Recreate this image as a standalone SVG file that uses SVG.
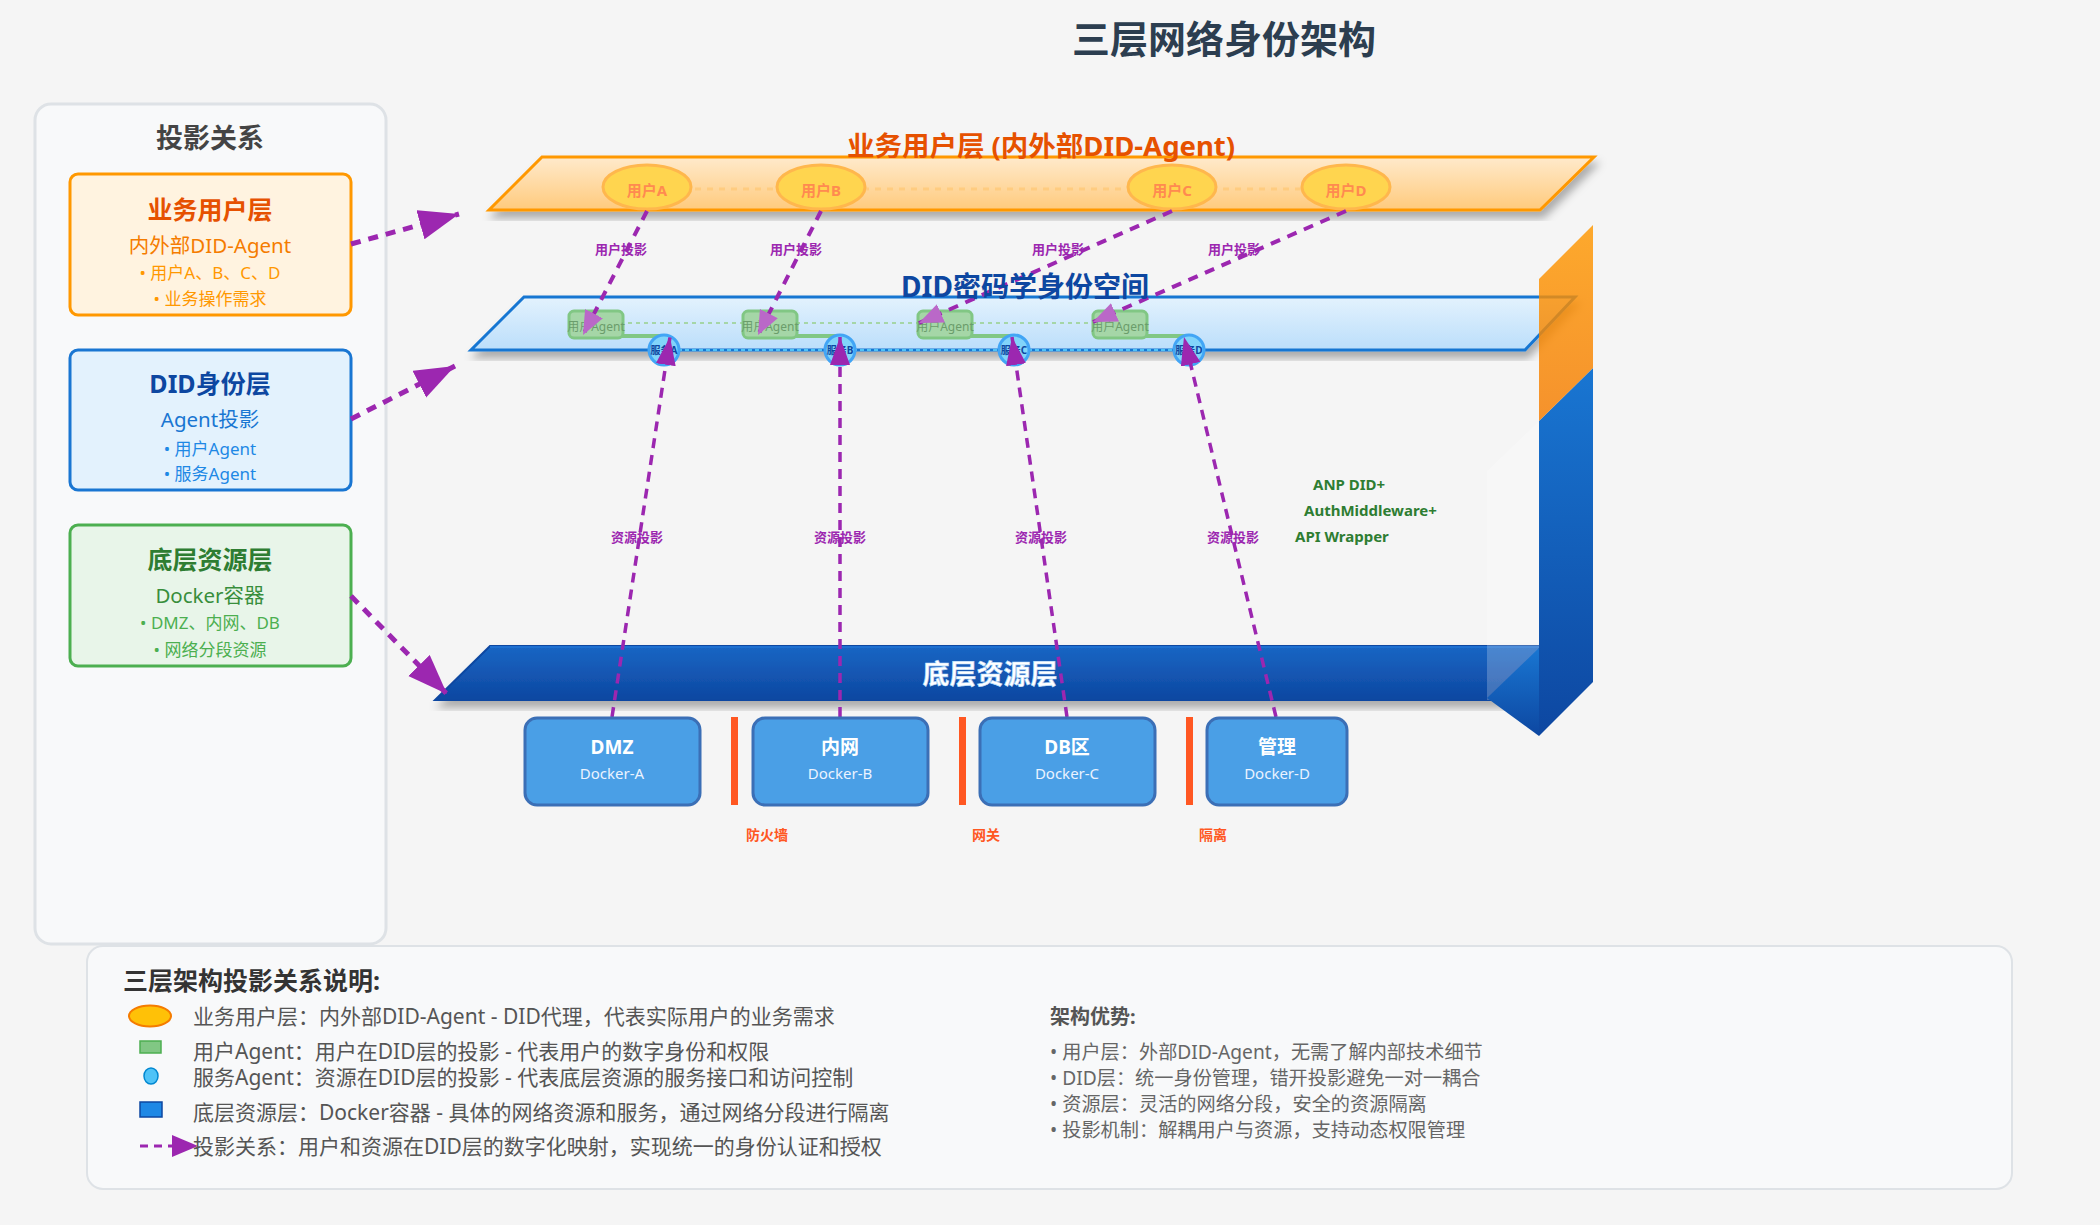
<svg xmlns="http://www.w3.org/2000/svg" width="2100" height="1225" viewBox="0 0 2100 1225">
<style>
text{font-family:"Noto Sans","Noto Sans CJK SC",sans-serif}
.b{font-weight:bold}
.c{text-anchor:middle}
.proj{fill:none;stroke:#9c27b0;stroke-width:4;stroke-dasharray:10,8}
.res{fill:none;stroke:#9c27b0;stroke-width:3.5;stroke-dasharray:10,7}
.side{fill:none;stroke:#9c27b0;stroke-width:5;stroke-dasharray:10,8}
.user{fill:#ffd54f;stroke:#ffb74d;stroke-width:3}
.ulbl{font-size:15px;font-weight:bold;fill:#ff8a50;text-anchor:middle}
.agent{fill:#a5d6a7;stroke:#81c784;stroke-width:3}
.albl{font-size:12px;fill:#6b9d6b;text-anchor:middle}
.svc{fill:#81d4fa;stroke:#42a5f5;stroke-width:3}
.slbl{font-size:10px;font-weight:bold;fill:#0d47a1;text-anchor:middle}
.dock{fill:#4a9fe6;stroke:#3b6fb6;stroke-width:3}
.dt{font-size:19px;font-weight:bold;fill:#fff;text-anchor:middle}
.ds{font-size:15px;fill:#eaf3ff;text-anchor:middle}
.sep{fill:#ff5722}
.seplbl{font-size:14px;font-weight:bold;fill:#ff5722;text-anchor:middle}
.plbl{font-size:13px;font-weight:bold;fill:#9c27b0;text-anchor:middle}
.tech{font-size:15px;font-weight:bold;fill:#2e7d32}
.card{stroke-width:3}
.lg{font-size:21px;fill:#555}
.rg{font-size:19.2px;fill:#666}
</style>
<defs>
<linearGradient id="gOr" x1="0" y1="0" x2="0" y2="1"><stop offset="0" stop-color="#ffeacc"/><stop offset="1" stop-color="#ffca7c"/></linearGradient>
<linearGradient id="gDid" x1="0" y1="0" x2="0" y2="1"><stop offset="0" stop-color="#e3f2fd"/><stop offset="1" stop-color="#bbdefb"/></linearGradient>
<linearGradient id="gBot" x1="0" y1="0" x2="0" y2="1"><stop offset="0" stop-color="#1a66c4"/><stop offset="1" stop-color="#0d47a1"/></linearGradient>
<linearGradient id="gBarO" x1="0" y1="0" x2="0" y2="1"><stop offset="0" stop-color="#ff9800"/><stop offset="1" stop-color="#f57c00"/></linearGradient>
<linearGradient id="gBarB" x1="0" y1="0" x2="0" y2="1"><stop offset="0" stop-color="#1976d2"/><stop offset="1" stop-color="#0d47a1"/></linearGradient>
<filter id="sh" x="-5%" y="-10%" width="112%" height="130%"><feDropShadow dx="3" dy="7" stdDeviation="4" flood-color="#000" flood-opacity="0.3"/></filter>
<marker id="mBig" markerUnits="userSpaceOnUse" markerWidth="42" markerHeight="32" refX="40" refY="15" orient="auto"><path d="M0,0 L40,15 L0,30 z" fill="#9c27b0"/></marker>
<marker id="mUser" markerUnits="userSpaceOnUse" markerWidth="26" markerHeight="22" refX="24" refY="10" orient="auto"><path d="M0,0 L24,10 L0,20 z" fill="#ba68c8"/></marker>
<marker id="mRes" markerUnits="userSpaceOnUse" markerWidth="30" markerHeight="22" refX="28" refY="10" orient="auto"><path d="M0,0 L28,10 L0,20 z" fill="#9c27b0"/></marker>
</defs>
<rect width="2100" height="1225" fill="#f5f5f5"/>
<text x="1224" y="53" class="b c" font-size="38" fill="#2c3e50">三层网络身份架构</text>

<g id="left-panel">
<rect x="35" y="104" width="351" height="840" rx="16" fill="#f8f9fa" stroke="#dee2e6" stroke-width="3"/>
<text x="210" y="148" class="b c" font-size="27" fill="#444">投影关系</text>
</g>
<g id="card-user">
<rect x="70" y="174" width="281" height="141" rx="8" fill="#fff3e0" stroke="#ff9800" class="card"/>
<text x="210" y="219" class="b c" font-size="25" fill="#e65100">业务用户层</text>
<text x="210" y="253" class="c" font-size="20.5" fill="#f57c00">内外部DID-Agent</text>
<text x="210" y="279" class="c" font-size="17" fill="#ff9800">• 用户A、B、C、D</text>
<text x="210" y="305" class="c" font-size="17" fill="#ff9800">• 业务操作需求</text>
</g>
<g id="card-did">
<rect x="70" y="350" width="281" height="140" rx="8" fill="#e3f2fd" stroke="#1976d2" class="card"/>
<text x="210" y="393" class="b c" font-size="25" fill="#0d47a1">DID身份层</text>
<text x="210" y="427" class="c" font-size="20.5" fill="#1976d2">Agent投影</text>
<text x="210" y="455" class="c" font-size="17" fill="#1e88e5">• 用户Agent</text>
<text x="210" y="480" class="c" font-size="17" fill="#1e88e5">• 服务Agent</text>
</g>
<g id="card-res">
<rect x="70" y="525" width="281" height="141" rx="8" fill="#e8f5e9" stroke="#4caf50" class="card"/>
<text x="210" y="569" class="b c" font-size="25" fill="#2e7d32">底层资源层</text>
<text x="210" y="603" class="c" font-size="20.5" fill="#388e3c">Docker容器</text>
<text x="210" y="629" class="c" font-size="17" fill="#4caf50">• DMZ、内网、DB</text>
<text x="210" y="656" class="c" font-size="17" fill="#4caf50">• 网络分段资源</text>
</g>

<g id="layer-user">
<polygon points="542,157 1594,157 1540,210 489,210" fill="url(#gOr)" stroke="#ff9800" stroke-width="3" filter="url(#sh)"/>
<text x="1041" y="156" class="b c" font-size="27.5" fill="#e65100">业务用户层 (内外部DID-Agent)</text>
<line x1="647" y1="189" x2="1346" y2="189" stroke="#ffcc80" stroke-width="3" stroke-dasharray="6,6"/>
</g>
<g id="user-a"><ellipse cx="647" cy="187" rx="44" ry="22" class="user"/><text x="647" y="196" class="ulbl">用户A</text></g>
<g id="user-b"><ellipse cx="821" cy="187" rx="44" ry="22" class="user"/><text x="821" y="196" class="ulbl">用户B</text></g>
<g id="user-c"><ellipse cx="1172" cy="187" rx="44" ry="22" class="user"/><text x="1172" y="196" class="ulbl">用户C</text></g>
<g id="user-d"><ellipse cx="1346" cy="187" rx="44" ry="22" class="user"/><text x="1346" y="196" class="ulbl">用户D</text></g>

<g id="layer-bottom">
<polygon points="490,646 1539,646 1539,700 435,700" fill="url(#gBot)" stroke="#0d47a1" stroke-width="2" filter="url(#sh)"/>
<line x1="490" y1="647" x2="1539" y2="647" stroke="#1e6fd0" stroke-width="2"/>
<text x="990" y="684" class="b c" font-size="27" fill="#fff" stroke="#bbdefb" stroke-width="0.6">底层资源层</text>
</g>

<g id="frame-right">
<polygon points="1487,471 1539,421 1539,700 1487,700" fill="#fff" fill-opacity="0.22"/>
<polygon points="1487,698 1539,648 1539,736" fill="url(#gBarB)"/>
<polygon points="1539,421 1593,368 1593,682 1539,736" fill="url(#gBarB)"/>
</g>

<g id="layer-did">
<polygon points="524,297 1575,297 1525,350 471,350" fill="url(#gDid)" stroke="#1976d2" stroke-width="3" filter="url(#sh)"/>
</g>

<g id="agent-links">
<line x1="596" y1="336" x2="662" y2="336" stroke="#81c784" stroke-width="4"/>
<line x1="770" y1="336" x2="838" y2="336" stroke="#81c784" stroke-width="4"/>
<line x1="945" y1="336" x2="1012" y2="336" stroke="#81c784" stroke-width="4"/>
<line x1="1120" y1="336" x2="1187" y2="336" stroke="#81c784" stroke-width="4"/>
<line x1="596" y1="323" x2="1120" y2="323" stroke="#a5d6a7" stroke-width="2" stroke-dasharray="4,4"/>
<line x1="664" y1="350" x2="1189" y2="350" stroke="#4fc3f7" stroke-width="2" stroke-dasharray="4,3"/>
</g>
<g id="agent-a"><rect x="569" y="311" width="54" height="27" rx="5" class="agent"/><text x="596" y="331" class="albl">用户Agent</text></g>
<g id="agent-b"><rect x="743" y="311" width="54" height="27" rx="5" class="agent"/><text x="770" y="331" class="albl">用户Agent</text></g>
<g id="agent-c"><rect x="918" y="311" width="54" height="27" rx="5" class="agent"/><text x="945" y="331" class="albl">用户Agent</text></g>
<g id="agent-d"><rect x="1093" y="311" width="54" height="27" rx="5" class="agent"/><text x="1120" y="331" class="albl">用户Agent</text></g>
<g id="svc-a"><circle cx="664" cy="350" r="15" class="svc"/><text x="664" y="354" class="slbl">服务A</text></g>
<g id="svc-b"><circle cx="840" cy="350" r="15" class="svc"/><text x="840" y="354" class="slbl">服务B</text></g>
<g id="svc-c"><circle cx="1014" cy="350" r="15" class="svc"/><text x="1014" y="354" class="slbl">服务C</text></g>
<g id="svc-d"><circle cx="1189" cy="350" r="15" class="svc"/><text x="1189" y="354" class="slbl">服务D</text></g>

<g id="connectors">
<line x1="351" y1="244" x2="459" y2="214" class="side" marker-end="url(#mBig)"/>
<line x1="351" y1="419" x2="455" y2="366" class="side" marker-end="url(#mBig)"/>
<line x1="351" y1="596" x2="447" y2="694" class="side" marker-end="url(#mBig)"/>
<line x1="647" y1="211" x2="583" y2="335" class="proj" marker-end="url(#mUser)"/>
<line x1="821" y1="211" x2="758" y2="335" class="proj" marker-end="url(#mUser)"/>
<line x1="1172" y1="211" x2="919" y2="323" class="proj" marker-end="url(#mUser)"/>
<line x1="1346" y1="211" x2="1093" y2="322" class="proj" marker-end="url(#mUser)"/>
<line x1="612" y1="717" x2="670" y2="337" class="res" marker-end="url(#mRes)"/>
<line x1="840" y1="717" x2="840" y2="337" class="res" marker-end="url(#mRes)"/>
<line x1="1067" y1="717" x2="1012" y2="337" class="res" marker-end="url(#mRes)"/>
<line x1="1276" y1="717" x2="1184" y2="337" class="res" marker-end="url(#mRes)"/>
</g>

<g id="did-title">
<text x="1025" y="297" class="b c" font-size="28" fill="#0d47a1">DID密码学身份空间</text>
</g>
<g id="frame-right-top">
<polygon points="1539,279 1593,225 1593,368 1539,421" fill="url(#gBarO)" fill-opacity="0.82"/>
</g>

<g id="labels">
<text x="621" y="254" class="plbl">用户投影</text>
<text x="796" y="254" class="plbl">用户投影</text>
<text x="1058" y="254" class="plbl">用户投影</text>
<text x="1234" y="254" class="plbl">用户投影</text>
<text x="637" y="542" class="plbl">资源投影</text>
<text x="840" y="542" class="plbl">资源投影</text>
<text x="1041" y="542" class="plbl">资源投影</text>
<text x="1233" y="542" class="plbl">资源投影</text>
<text x="1313" y="490" class="tech">ANP DID+</text>
<text x="1304" y="516" class="tech">AuthMiddleware+</text>
<text x="1295" y="542" class="tech">API Wrapper</text>
</g>

<g id="dock-a"><rect x="525" y="718" width="175" height="87" rx="12" class="dock"/><text x="612" y="754" class="dt">DMZ</text><text x="612" y="779" class="ds">Docker-A</text></g>
<g id="dock-b"><rect x="753" y="718" width="175" height="87" rx="12" class="dock"/><text x="840" y="754" class="dt">内网</text><text x="840" y="779" class="ds">Docker-B</text></g>
<g id="dock-c"><rect x="980" y="718" width="175" height="87" rx="12" class="dock"/><text x="1067" y="754" class="dt">DB区</text><text x="1067" y="779" class="ds">Docker-C</text></g>
<g id="dock-d"><rect x="1207" y="718" width="140" height="87" rx="12" class="dock"/><text x="1277" y="754" class="dt">管理</text><text x="1277" y="779" class="ds">Docker-D</text></g>
<g id="separators">
<rect x="731" y="717" width="7" height="88" class="sep"/>
<rect x="959" y="717" width="7" height="88" class="sep"/>
<rect x="1186" y="717" width="7" height="88" class="sep"/>
<text x="767" y="840" class="seplbl">防火墙</text>
<text x="986" y="840" class="seplbl">网关</text>
<text x="1213" y="840" class="seplbl">隔离</text>
</g>

<g id="legend">
<rect x="87" y="946" width="1925" height="243" rx="16" fill="#f8f9fa" stroke="#dee2e6" stroke-width="2"/>
<text x="123" y="990" class="b" font-size="25" fill="#333">三层架构投影关系说明:</text>
<ellipse cx="150" cy="1016" rx="21" ry="10.5" fill="#ffc107" stroke="#f57c00" stroke-width="2"/>
<text x="193" y="1024" class="lg">业务用户层：内外部DID-Agent - DID代理，代表实际用户的业务需求</text>
<rect x="140" y="1041" width="21" height="12" fill="#81c784" stroke="#4caf50" stroke-width="1.5"/>
<text x="193" y="1059" class="lg">用户Agent：用户在DID层的投影 - 代表用户的数字身份和权限</text>
<ellipse cx="151" cy="1076" rx="7" ry="8" fill="#4fc3f7" stroke="#0288d1" stroke-width="1.5"/>
<text x="193" y="1085" class="lg">服务Agent：资源在DID层的投影 - 代表底层资源的服务接口和访问控制</text>
<rect x="140" y="1102" width="22" height="15" fill="#1e88e5" stroke="#0d47a1" stroke-width="1.5"/>
<text x="193" y="1120" class="lg">底层资源层：Docker容器 - 具体的网络资源和服务，通过网络分段进行隔离</text>
<line x1="140" y1="1146" x2="174" y2="1146" stroke="#9c27b0" stroke-width="3" stroke-dasharray="8,6"/>
<polygon points="172,1135 198,1146 172,1157" fill="#9c27b0"/>
<text x="193" y="1154" class="lg">投影关系：用户和资源在DID层的数字化映射，实现统一的身份认证和授权</text>
<text x="1050" y="1024" class="b" font-size="20" fill="#555">架构优势:</text>
<text x="1050" y="1059" class="rg">• 用户层：外部DID-Agent，无需了解内部技术细节</text>
<text x="1050" y="1085" class="rg">• DID层：统一身份管理，错开投影避免一对一耦合</text>
<text x="1050" y="1111" class="rg">• 资源层：灵活的网络分段，安全的资源隔离</text>
<text x="1050" y="1137" class="rg">• 投影机制：解耦用户与资源，支持动态权限管理</text>
</g>
</svg>
